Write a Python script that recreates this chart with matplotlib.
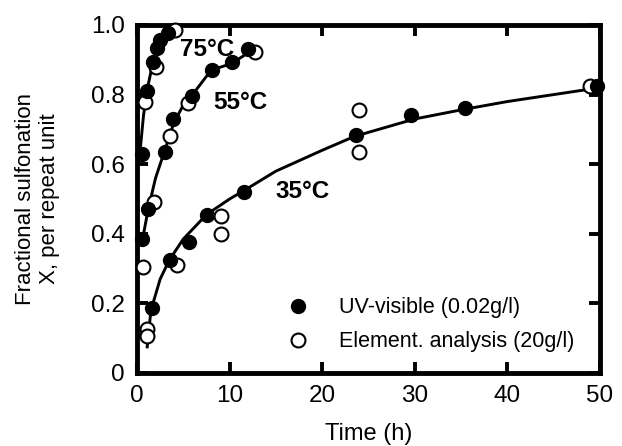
import matplotlib
matplotlib.use("Agg")
import matplotlib.pyplot as plt
from matplotlib.lines import Line2D

plt.rcParams['font.family'] = ['Liberation Sans', 'DejaVu Sans']

# filled symbols: UV-visible
uv_t = [0.5, 1.1, 1.7, 2.2, 2.5, 3.3,
        0.5, 1.2, 3.0, 3.9, 5.9, 8.1, 10.3, 12.0,
        1.6, 3.6, 5.6, 7.6, 11.6, 23.6, 29.6, 35.4, 49.7]
uv_x = [0.63, 0.81, 0.895, 0.935, 0.958, 0.978,
        0.385, 0.47, 0.635, 0.73, 0.795, 0.872, 0.895, 0.932,
        0.187, 0.325, 0.377, 0.455, 0.52, 0.685, 0.74, 0.76, 0.826]

# open symbols: elemental analysis
ea_t = [0.9, 2.1, 4.1,
        0.6, 1.8, 3.6, 5.5, 12.7,
        1.1, 1.1, 4.3, 9.1, 9.1, 24.0, 24.0, 48.9]
ea_x = [0.78, 0.88, 0.987,
        0.305, 0.49, 0.68, 0.777, 0.921,
        0.125, 0.105, 0.31, 0.452, 0.40, 0.757, 0.636, 0.826]

# fitted curves
c75_t = [0.3, 0.7, 1.1, 1.7, 2.2, 2.7, 3.5, 4.1]
c75_x = [0.63, 0.74, 0.815, 0.89, 0.935, 0.96, 0.98, 0.99]
c55_t = [0.5, 1.2, 2.0, 3.0, 4.0, 5.0, 6.0, 8.0, 10.3, 12.2]
c55_x = [0.37, 0.47, 0.56, 0.64, 0.72, 0.77, 0.80, 0.87, 0.89, 0.924]
c35_t = [1.1, 1.5, 2.5, 3.5, 5.0, 7.5, 10.0, 11.6, 15.0, 20.0, 23.5, 30.0, 35.2, 40.0, 45.0, 49.5]
c35_x = [0.075, 0.18, 0.27, 0.325, 0.385, 0.455, 0.50, 0.525, 0.58, 0.64, 0.68, 0.73, 0.757, 0.78, 0.80, 0.818]

temps = ['75°C', '55°C', '35°C']
temp_pos = [(7.6, 0.93), (11.2, 0.778), (17.9, 0.522)]

xticks = [0, 10, 20, 30, 40, 50]
yticks = [0, 0.2, 0.4, 0.6, 0.8, 1.0]
ylabels = ['0', '0.2', '0.4', '0.6', '0.8', '1.0']

fig = plt.figure(figsize=(6.22, 4.46), dpi=100)
ax = fig.add_axes([0.2203, 0.1637, 0.7443, 0.7803])

for t, x in [(c75_t, c75_x), (c55_t, c55_x), (c35_t, c35_x)]:
    ax.plot(t, x, color='black', lw=2.1, zorder=2)

ax.plot(ea_t, ea_x, 'o', ms=10, mfc='white', mec='black', mew=1.5,
        ls='none', zorder=3, clip_on=False)
ax.plot(uv_t, uv_x, 'o', ms=10, mfc='black', mec='black',
        ls='none', zorder=4, clip_on=False)

for lab, (tx, ty) in zip(temps, temp_pos):
    ax.text(tx, ty, lab, fontsize=17.5, fontweight='bold', ha='center', va='center')

handles = [Line2D([], [], marker='o', ls='none', ms=10, mfc='black', mec='black'),
           Line2D([], [], marker='o', ls='none', ms=10, mfc='white', mec='black', mew=1.5)]
ax.legend(handles, ['UV-visible (0.02g/l)', 'Element. analysis (20g/l)'],
          loc='lower left', bbox_to_anchor=(0.265, 0.01), frameon=False,
          fontsize=15.5, handletextpad=0.9, labelspacing=0.6, borderpad=0.3)

ax.set_xlim(0, 50)
ax.set_ylim(0, 1.0)
ax.set_xticks(xticks)
ax.set_yticks(yticks)
ax.set_yticklabels(ylabels)
ax.tick_params(direction='in', length=8, width=2.8, labelsize=17.5,
               top=True, right=True, pad=9)
for s in ax.spines.values():
    s.set_linewidth(3.5)

ax.set_xlabel('Time (h)', fontsize=17, labelpad=11)
ax.set_ylabel('Fractional sulfonation\nX, per repeat unit', fontsize=16, labelpad=22,
              linespacing=1.2)

fig.savefig('out.png', dpi=100)
